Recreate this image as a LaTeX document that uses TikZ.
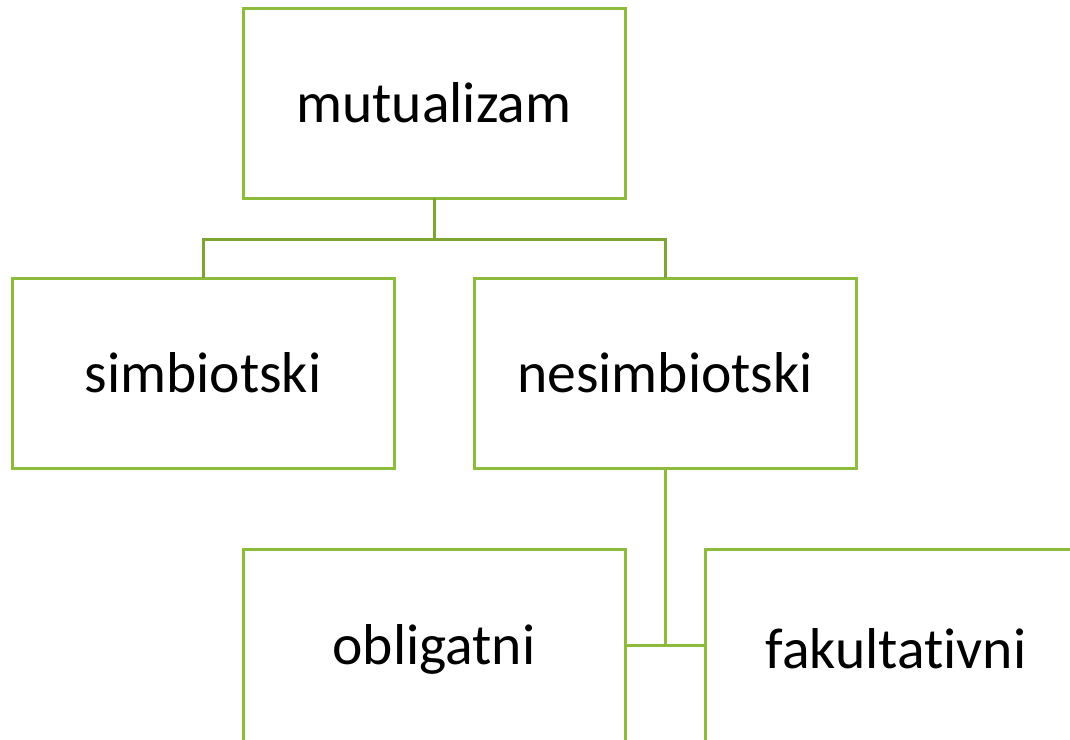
\documentclass[tikz,border=0pt]{standalone}
\usepackage{fontspec}
\setmainfont[Ligatures=NoCommon]{Carlito}
\definecolor{boxgreen}{HTML}{8DBB3C}
\definecolor{linkgreen}{HTML}{7DA532}
\begin{document}
\begin{tikzpicture}[x=1pt,y=-1pt,
  box/.style={draw=boxgreen,line width=3pt,rectangle,minimum width=382pt,minimum height=190pt,inner sep=0pt,outer sep=0pt,font=\fontsize{57.6}{69}\selectfont},
  link/.style={draw=linkgreen,line width=3pt},
  link2/.style={draw=boxgreen,line width=3pt}]
\useasboundingbox (0,0) rectangle (1070,739);
\clip (0,0) rectangle (1070,739);
\node[box] (mut) at (434,103) {mutualizam};
\node[box] (sim) at (203,373) {simbiotski};
\node[box] (nes) at (665,373) {nesimbiotski};
\node[box,minimum height=200pt] (obl) at (434,649) {obligatni};
\node[box,minimum height=200pt] (fak) at (896,649) {fakultativni};
\draw[link] (mut.south) -- ++(0,41) -| (sim.north);
\draw[link] (mut.south) -- ++(0,41) -| (nes.north);
\draw[link2] (nes.south) -- ++(0,177) coordinate (j);
\draw[link2] (obl.east|-j) -- (fak.west|-j);
\end{tikzpicture}
\end{document}
